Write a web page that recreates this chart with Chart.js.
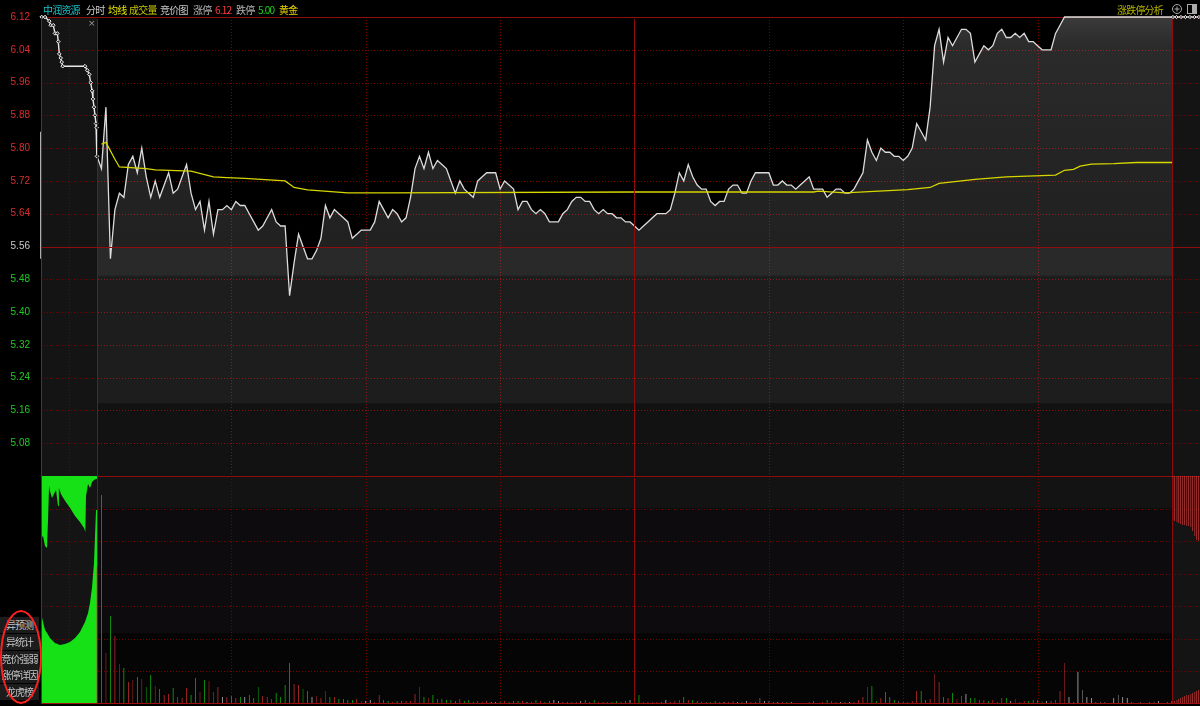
<!DOCTYPE html>
<html lang="zh">
<head>
  <meta charset="UTF-8" />
  <title>中润资源 分时</title>
  <script src="https://cdn.jsdelivr.net/npm/chart.js"></script>
  <style>
    html, body { margin: 0; background: #000; width: 1200px; height: 706px; overflow: hidden; }
    #wrap { position: relative; width: 1200px; height: 706px; }
    canvas { position: absolute; left: 0; }
    #priceChart { top: 0; }
    #volChart { top: 476px; }
    .hd { position: absolute; top: 3px; font: 10px "Noto Sans CJK SC", sans-serif; line-height: 13px; letter-spacing: -0.8px; white-space: nowrap; }
    .btn { position: absolute; left: 0; width: 39px; height: 16px; background: #1c1c1c; color: #c4c4c4;
           font: 10px "Noto Sans CJK SC", sans-serif; letter-spacing: -1px; line-height: 16px; text-align: center; overflow: hidden; white-space: nowrap; }
    #ring { position: absolute; left: 0; top: 610px; width: 42px; height: 94px; border: 2px solid #ff2020; border-radius: 50%; box-sizing: border-box; }
    #close { position: absolute; left: 88px; top: 18px; color: #9a9a9a; font: 9px "DejaVu Sans", sans-serif; }
  </style>
</head>
<body>
<div id="wrap">
  <canvas id="priceChart" width="1200" height="477"></canvas>
  <canvas id="volChart" width="1200" height="230"></canvas>

  <div class="hd" style="left:43px;color:#16c4cc">中润资源</div>
  <div class="hd" style="left:86px;color:#c8c8c8">分时</div>
  <div class="hd" style="left:108px;color:#e8e800">均线</div>
  <div class="hd" style="left:129px;color:#c4c400">成交量</div>
  <div class="hd" style="left:160px;color:#c8c8c8">竞价图</div>
  <div class="hd" style="left:193px;color:#b4b4b4">涨停</div>
  <div class="hd" id="upTxt" style="left:215px;color:#ff3c3c"></div>
  <div class="hd" style="left:236px;color:#b4b4b4">跌停</div>
  <div class="hd" id="downTxt" style="left:258px;color:#1ed21e"></div>
  <div class="hd" style="left:279px;color:#e6d200">黄金</div>
  <div class="hd" style="left:1117px;color:#b4b400">涨跌停分析</div>
  <svg style="position:absolute;left:1171px;top:3px" width="28" height="13">
    <circle cx="6" cy="6" r="4.5" fill="none" stroke="#aaa" />
    <path d="M6 3.5v5M3.5 6h5" stroke="#aaa" />
    <rect x="16.5" y="1.5" width="9" height="9" fill="none" stroke="#aaa" />
    <rect x="21" y="2" width="4" height="8" fill="#aaa" />
  </svg>
  <div id="close">×</div>

  <div class="btn" style="top:617px">异预测</div>
  <div class="btn" style="top:634px">异统计</div>
  <div class="btn" style="top:651px">竞价强弱</div>
  <div class="btn" style="top:667px">涨停详因</div>
  <div class="btn" style="top:684px">龙虎榜</div>
  <div id="ring"></div>
</div>

<script>
  // 价格刻度
  const priceTicks = [6.12, 6.04, 5.96, 5.88, 5.80, 5.72, 5.64, 5.56, 5.48, 5.40, 5.32, 5.24, 5.16, 5.08];
  const prevClose = 5.56;
  const limitUp = 6.12;
  const limitDown = 5.00;

  // 横轴: 0 = 9:30, 120 = 11:30/13:00, 240 = 15:00 (分钟); 左侧为集合竞价, 右侧为收盘竞价
  const X_MIN = -12.5;
  const X_MAX = 246.25;
  const timeMarks = [-6.25, 30, 60, 90, 150, 180, 210];
  const solidMarks = [0, 120, 240];

  // 每分钟价格 (0..240)
  const prices = [
    5.78, 5.75, 5.90, 5.53, 5.65, 5.69, 5.68, 5.76, 5.78, 5.74,
    5.80, 5.73, 5.68, 5.72, 5.68, 5.71, 5.74, 5.69, 5.70, 5.73,
    5.76, 5.69, 5.65, 5.67, 5.60, 5.67, 5.59, 5.65, 5.65, 5.66,
    5.65, 5.67, 5.66, 5.66, 5.64, 5.62, 5.60, 5.61, 5.63, 5.65,
    5.62, 5.61, 5.61, 5.44, 5.52, 5.59, 5.56, 5.53, 5.53, 5.55,
    5.58, 5.66, 5.63, 5.65, 5.64, 5.63, 5.62, 5.58, 5.59, 5.60,
    5.60, 5.60, 5.62, 5.67, 5.65, 5.63, 5.65, 5.64, 5.62, 5.63,
    5.68, 5.75, 5.78, 5.75, 5.79, 5.75, 5.77, 5.76, 5.75, 5.72,
    5.69, 5.72, 5.70, 5.69, 5.68, 5.72, 5.73, 5.74, 5.74, 5.74,
    5.70, 5.72, 5.71, 5.70, 5.65, 5.67, 5.67, 5.65, 5.64, 5.65,
    5.64, 5.62, 5.62, 5.62, 5.64, 5.65, 5.67, 5.68, 5.68, 5.67,
    5.67, 5.65, 5.64, 5.65, 5.64, 5.64, 5.63, 5.63, 5.62, 5.62,
    5.61, 5.60, 5.61, 5.62, 5.63, 5.64, 5.64, 5.64, 5.65, 5.69,
    5.74, 5.72, 5.76, 5.73, 5.71, 5.70, 5.70, 5.67, 5.66, 5.67,
    5.67, 5.70, 5.71, 5.71, 5.69, 5.69, 5.72, 5.74, 5.74, 5.74,
    5.74, 5.71, 5.71, 5.72, 5.71, 5.71, 5.70, 5.71, 5.72, 5.73,
    5.70, 5.70, 5.70, 5.68, 5.69, 5.70, 5.70, 5.69, 5.69, 5.70,
    5.72, 5.74, 5.82, 5.79, 5.77, 5.80, 5.79, 5.79, 5.78, 5.78,
    5.77, 5.78, 5.80, 5.86, 5.84, 5.82, 5.90, 6.05, 6.09, 6.01,
    6.07, 6.05, 6.07, 6.09, 6.09, 6.08, 6.01, 6.03, 6.05, 6.04,
    6.05, 6.08, 6.09, 6.07, 6.07, 6.08, 6.07, 6.08, 6.06, 6.06,
    6.05, 6.04, 6.04, 6.04, 6.08, 6.10, 6.12, 6.12, 6.12, 6.12,
    6.12, 6.12, 6.12, 6.12, 6.12, 6.12, 6.12, 6.12, 6.12, 6.12,
    6.12, 6.12, 6.12, 6.12, 6.12, 6.12, 6.12, 6.12, 6.12, 6.12,
    6.12
  ];

  // 均价线
  const avgMinutes = [1, 2, 4, 5, 11, 13, 21, 26, 29, 33, 42, 44, 47, 56, 65, 120, 160, 161, 167, 181, 186, 188, 196, 203, 214, 216, 218, 219.5, 222, 227, 232, 240];
  const avgPrices  = [5.810, 5.814, 5.773, 5.754, 5.750, 5.747, 5.744, 5.730, 5.728, 5.726, 5.720, 5.704, 5.698, 5.691, 5.691, 5.693, 5.693, 5.695, 5.691, 5.699, 5.704, 5.714, 5.724, 5.730, 5.734, 5.746, 5.748, 5.756, 5.761, 5.762, 5.765, 5.765];

  // 集合竞价价格 (9:15-9:25)
  const auctionTimes  = [-12.35, -11.6, -10.65, -10.34, -9.76, -9.38, -8.86, -8.64, -8.42, -8.10, -7.88, -7.66, -2.68, -2.17, -1.72, -1.41, -1.10, -0.90, -0.67, -0.45, -0.22, -0.07, 0];
  const auctionPrices = [6.12, 6.12, 6.11, 6.10, 6.10, 6.08, 6.08, 6.06, 6.03, 6.02, 6.01, 6.00, 6.00, 5.99, 5.98, 5.96, 5.94, 5.92, 5.90, 5.88, 5.86, 5.85, 5.78];
  const auctionOpenRange = [5.53, 5.84];

  // 收盘竞价价格
  const closeTimes  = [240.2, 241, 242, 243, 244, 245, 246];
  const closePrices = [6.12, 6.12, 6.12, 6.12, 6.12, 6.12, 6.12];

  // 每分钟成交量 (0..240)
  const volumes = [
    137, 209, 51, 88, 68, 40, 36, 22, 24, 27,
    25, 17, 29, 18, 15, 9, 10, 16, 7, 6,
    16, 9, 26, 12, 24, 23, 12, 17, 7, 7,
    8, 6, 7, 7, 9, 6, 17, 8, 7, 5,
    11, 7, 19, 41, 20, 19, 15, 13, 7, 8,
    6, 13, 7, 7, 5, 5, 4, 4, 5, 3,
    3, 4, 2, 9, 4, 3, 2, 3, 3, 3,
    3, 10, 17, 7, 6, 9, 5, 5, 4, 4,
    3, 5, 3, 4, 2, 3, 2, 3, 2, 2,
    2, 3, 2, 3, 3, 3, 2, 2, 4, 3,
    2, 3, 4, 3, 2, 2, 2, 2, 3, 4,
    2, 4, 2, 2, 2, 2, 3, 2, 3, 4,
    2, 9, 2, 2, 2, 2, 2, 4, 2, 3,
    4, 7, 4, 4, 3, 2, 2, 2, 3, 2,
    2, 2, 3, 2, 2, 3, 2, 2, 6, 3,
    3, 2, 2, 2, 2, 2, 1, 1, 1, 2,
    3, 1, 2, 4, 3, 2, 2, 2, 2, 2,
    4, 7, 17, 18, 3, 6, 12, 7, 4, 3,
    2, 2, 3, 13, 13, 4, 5, 30, 22, 7,
    6, 11, 5, 8, 10, 6, 6, 4, 4, 3,
    4, 2, 6, 6, 3, 5, 2, 3, 3, 4,
    4, 2, 3, 3, 4, 13, 41, 7, 2, 32,
    14, 7, 6, 2, 2, 2, 1, 6, 9, 7,
    6, 2, 1, 2, 1, 2, 2, 3, 1, 2,
    3
  ];
  // r 红 R 深红 g 绿 G 深绿 w 白 s 灰
  const volumeColors =
    'rgRgrRgrRg' + 'RGgRgrrgrr' + 'rggRgRGrwr' + 'grgwggGrrr' + 'ggggrrGgwR' +
    'rRgrggggrR' + 'wwrrggrggr' + 'rrRgRgrggg' + 'grgggrrrww' + 'grgggrwggr' +
    'ggwwrgrrwg' + 'sgrrrggsgw' + 'rgrrrrswrr' + 'rgrgggsggr' + 'wrrwgwrssw' +
    'sgwrgwrrrr' + 'gsrgrrwgwr' + 'rrRggrgsgs' + 'grrrggrRrg' + 'rgRrwggrrg' +
    'rrrgwRrrgg' + 'ggwsrrRwsw' + 'swwsssswsw' + 'wsssssswss' + 'w';

  const VOL_MAX = 228;

  // 集合竞价量: 下方为匹配量, 上方为未匹配量
  const auctionVolTimes = [-12.5, -12.05, -11.6, -11.16, -10.5, -9.4, -8.26, -7.14, -6.03, -4.9, -3.8, -2.68, -2.0, -1.56, -1.1, -0.67, -0.45, -0.22, 0];
  const auctionMatched  = [91, 82, 74, 71, 66, 61, 59, 60, 62, 66, 72, 82, 91, 101, 117, 141, 167, 194, 228];
  const unmatchedTimes  = [-12.5, -12.05, -11.6, -11.16, -10.9, -10.7, -10.5, -10.05, -9.6, -9.15, -8.7, -8.5, -8.04, -7.8, -7.1, -6.0, -4.9, -3.8, -2.9, -2.6, -2.45, -2.0, -1.56, -1.1, -0.67, -0.22, 0];
  const auctionUnmatched = [62, 60, 70, 72, 40, 10, 15, 22, 18, 14, 30, 12, 18, 20, 25, 32, 40, 46, 52, 56, 20, 8, 12, 6, 4, 3, 0];

  // 收盘竞价量
  const closeVolTimes = [240.2, 240.6, 241.1, 241.5, 241.9, 242.4, 242.8, 243.3, 243.7, 244.2, 244.6, 245.1, 245.5, 245.9];
  const closeUnmatched = [44, 45, 46, 47, 48, 49, 49, 50, 50, 51, 55, 60, 64, 65];
  const closeMatched = [2, 3, 4, 5, 6, 7, 8, 9, 9, 10, 11, 12, 13, 14];

  document.getElementById('upTxt').textContent = limitUp.toFixed(2);
  document.getElementById('downTxt').textContent = limitDown.toFixed(2);

  const palette = { r: '#e83434', R: '#a02626', g: '#10d010', G: '#0a8c0a', w: '#dcdcdc', s: '#828282' };
  const SOLID = '#8e0c0c';
  const DOT = '#7a0000';

  // 背景与网格
  const panel = {
    id: 'panel',
    beforeDraw(chart, args, o) {
      const { ctx, chartArea: a, scales: { x } } = chart;
      const x0 = x.getPixelForValue(X_MIN), x1 = x.getPixelForValue(0);
      const x2 = x.getPixelForValue(240), x3 = x.getPixelForValue(X_MAX);
      ctx.save();
      ctx.fillStyle = '#000';
      ctx.fillRect(0, 0, chart.width, chart.height);
      if (o.mainBg) {
        const g = ctx.createLinearGradient(0, a.top, 0, a.bottom);
        o.mainBg.forEach(([p, c]) => g.addColorStop(p, c));
        ctx.fillStyle = g;
        ctx.fillRect(x1, a.top, x2 - x1, a.bottom - a.top);
      }
      ctx.fillStyle = '#141414';
      ctx.fillRect(x0, a.top, x1 - x0, a.bottom - a.top);
      ctx.fillRect(x2, a.top, x3 - x2, a.bottom - a.top);
      ctx.restore();
    },
    beforeDatasetsDraw(chart, args, o) {
      const { ctx, chartArea: a, scales: { x, y } } = chart;
      const hline = (py) => { ctx.beginPath(); ctx.moveTo(a.left, py); ctx.lineTo(a.right, py); ctx.stroke(); };
      const vline = (px) => { ctx.beginPath(); ctx.moveTo(px, a.top); ctx.lineTo(px, a.bottom); ctx.stroke(); };
      ctx.save();
      ctx.lineWidth = 1;
      ctx.strokeStyle = DOT;
      ctx.setLineDash([1, 2]);
      o.hValues.forEach(v => { if (v !== o.solidH) hline(Math.round(y.getPixelForValue(v)) + 0.5); });
      timeMarks.forEach(m => vline(Math.round(x.getPixelForValue(m)) + 0.5));
      ctx.setLineDash([]);
      ctx.strokeStyle = SOLID;
      hline(a.top + 0.5);
      ctx.restore();
    },
    afterDatasetsDraw(chart, args, o) {
      const { ctx, chartArea: a, scales: { x, y } } = chart;
      const hline = (py) => { ctx.beginPath(); ctx.moveTo(a.left, py); ctx.lineTo(a.right, py); ctx.stroke(); };
      const vline = (px, top) => { ctx.beginPath(); ctx.moveTo(px, top); ctx.lineTo(px, a.bottom); ctx.stroke(); };
      ctx.save();
      ctx.lineWidth = 1;
      ctx.strokeStyle = SOLID;
      if (o.solidH !== undefined) hline(Math.round(y.getPixelForValue(o.solidH)) + 0.5);
      solidMarks.forEach(m => vline(Math.round(x.getPixelForValue(m)) + 0.5, a.top + 2));
      ctx.strokeStyle = '#a01010';
      vline(a.left + 0.5, a.top);
      if (o.bottomLine) hline(a.bottom - 0.5);
      ctx.restore();
    }
  };

  // 价格面积渐变
  function priceFill(c) {
    const { ctx, chartArea: a } = c.chart;
    if (!a) return 'rgba(255,255,255,0.12)';
    const g = ctx.createLinearGradient(0, a.top, 0, a.bottom);
    g.addColorStop(0, 'rgba(255,255,255,0.23)');
    g.addColorStop(0.06, 'rgba(255,255,255,0.17)');
    g.addColorStop(0.3, 'rgba(255,255,255,0.14)');
    g.addColorStop(0.5, 'rgba(255,255,255,0.13)');
    g.addColorStop(0.502, 'rgba(255,255,255,0.16)');
    g.addColorStop(0.562, 'rgba(255,255,255,0.16)');
    g.addColorStop(0.565, 'rgba(255,255,255,0.115)');
    g.addColorStop(0.84, 'rgba(255,255,255,0.115)');
    g.addColorStop(0.843, 'rgba(255,255,255,0.07)');
    g.addColorStop(1, 'rgba(255,255,255,0.07)');
    return g;
  }

  new Chart(document.getElementById('priceChart'), {
    type: 'line',
    data: {
      datasets: [
        {
          label: '均价',
          data: avgMinutes.map((m, i) => ({ x: m, y: avgPrices[i] })),
          borderColor: '#d6d600', borderWidth: 1.3, pointRadius: 0, fill: false, clip: 6
        },
        {
          label: '集合竞价',
          data: auctionTimes.map((t, i) => ({ x: t, y: auctionPrices[i] })),
          borderColor: '#e8e8e8', borderWidth: 1.4, fill: false, clip: 6,
          pointStyle: 'rectRot', pointRadius: 1.8, pointBackgroundColor: '#2a2a2a',
          pointBorderColor: '#f0f0f0', pointBorderWidth: 1
        },
        {
          label: '竞价起点',
          data: auctionOpenRange.map(p => ({ x: X_MIN, y: p })),
          borderColor: '#e8e8e8', borderWidth: 1.5, pointRadius: 0, fill: false, clip: 6
        },
        {
          label: '收盘竞价',
          data: closeTimes.map((t, i) => ({ x: t, y: closePrices[i] })),
          borderColor: '#e8e8e8', borderWidth: 1.2, fill: false, clip: 6,
          pointStyle: 'rectRot', pointRadius: 1.6, pointBackgroundColor: '#2a2a2a',
          pointBorderColor: '#f0f0f0', pointBorderWidth: 1
        },
        {
          label: '价格',
          data: prices.map((p, i) => ({ x: i, y: p })),
          borderColor: '#dcdcdc', borderWidth: 1.3, pointRadius: 0, clip: 6,
          fill: 'start', backgroundColor: priceFill
        }
      ]
    },
    options: {
      responsive: false,
      animation: false,
      events: [],
      layout: { autoPadding: false, padding: { top: 17, bottom: 1, left: 0, right: 0 } },
      plugins: {
        legend: { display: false },
        tooltip: { enabled: false },
        panel: { hValues: priceTicks, solidH: prevClose }
      },
      scales: {
        x: { type: 'linear', min: X_MIN, max: X_MAX, display: false },
        y: {
          min: limitDown, max: limitUp, position: 'left',
          grid: { display: false }, border: { display: false },
          afterBuildTicks(s) { s.ticks = priceTicks.map(v => ({ value: v })); },
          afterFit(s) { s.width = 41; s.paddingTop = 0; s.paddingBottom = 0; },
          ticks: {
            autoSkip: false, padding: 3,
            font: { family: 'Liberation Sans', size: 10 },
            color: c => {
              const v = c.tick.value;
              if (Math.abs(v - prevClose) < 1e-6) return '#c8c8c8';
              return v > prevClose ? '#dc2c2c' : '#22c822';
            },
            callback: v => Number(v).toFixed(2)
          }
        }
      }
    },
    plugins: [panel]
  });

  new Chart(document.getElementById('volChart'), {
    type: 'bar',
    data: {
      datasets: [
        {
          label: '成交量',
          data: volumes.map((v, i) => ({ x: i, y: v })),
          backgroundColor: volumeColors.split('').map(c => palette[c]),
          grouped: false, maxBarThickness: 2
        },
        {
          type: 'line', label: '竞价匹配量',
          data: auctionVolTimes.map((t, i) => ({ x: t, y: auctionMatched[i] })),
          fill: 'start', backgroundColor: '#16e016', borderWidth: 0, pointRadius: 0
        },
        {
          type: 'line', label: '竞价未匹配量',
          data: unmatchedTimes.map((t, i) => ({ x: t, y: VOL_MAX - auctionUnmatched[i] })),
          fill: 'end', backgroundColor: '#16e016', borderWidth: 0, pointRadius: 0
        },
        {
          label: '收盘未匹配量',
          data: closeVolTimes.map((t, i) => ({ x: t, y: [VOL_MAX - closeUnmatched[i], VOL_MAX] })),
          backgroundColor: '#dc3a3a', grouped: false, maxBarThickness: 2
        },
        {
          label: '收盘匹配量',
          data: closeVolTimes.map((t, i) => ({ x: t, y: closeMatched[i] })),
          backgroundColor: '#dc3a3a', grouped: false, maxBarThickness: 2
        }
      ]
    },
    options: {
      responsive: false,
      animation: false,
      events: [],
      layout: { autoPadding: false, padding: { top: 0, bottom: 2, left: 41, right: 0 } },
      plugins: {
        legend: { display: false },
        tooltip: { enabled: false },
        panel: {
          hValues: [1, 2, 3, 4, 5, 6].map(k => VOL_MAX * k / 7),
          bottomLine: true,
          mainBg: [[0, '#131313'], [0.14, '#131313'], [0.141, '#0d0b0d'], [0.69, '#0d0b0d'], [0.691, '#050505'], [1, '#050505']]
        }
      },
      scales: {
        x: { type: 'linear', min: X_MIN, max: X_MAX, display: false, offset: false },
        y: { min: 0, max: VOL_MAX, display: false }
      }
    },
    plugins: [panel]
  });
</script>
</body>
</html>
